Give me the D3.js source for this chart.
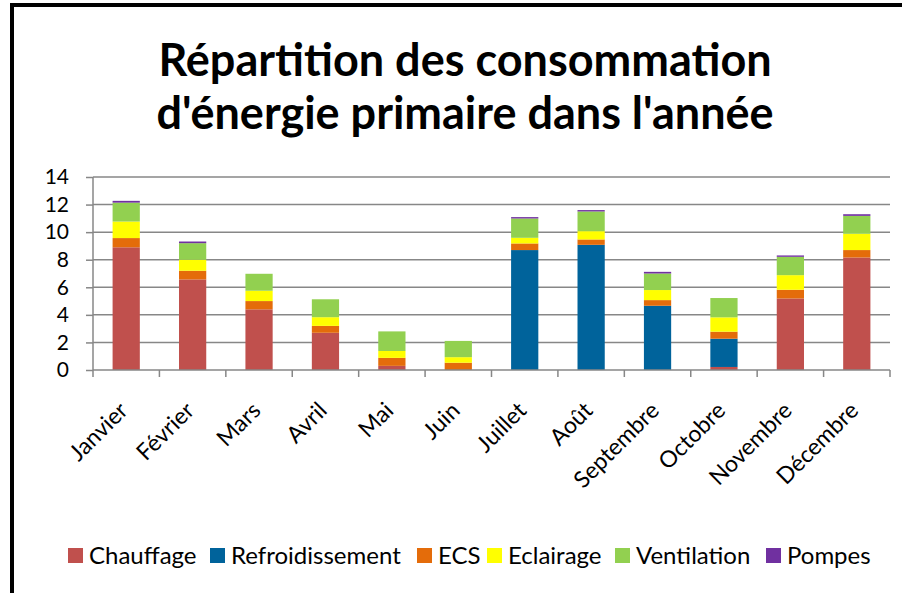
<!DOCTYPE html>
<html>
<head>
<meta charset="utf-8">
<script src="https://cdn.jsdelivr.net/npm/d3@7"></script>
<style>
  body { margin: 0; background: #fff; }
  text { font-family: Lato, "Open Sans", sans-serif; fill: #000; }
</style>
</head>
<body>
<div id="chart"></div>
<script>
// data
let months = ['Janvier', 'Février', 'Mars', 'Avril', 'Mai', 'Juin', 'Juillet', 'Août',
  'Septembre', 'Octobre', 'Novembre', 'Décembre'];
let chauffage = [8.9, 6.57, 4.4, 2.7, 0.3, 0, 0, 0, 0, 0.22, 5.19, 8.16];
let refroidissement = [0, 0, 0, 0, 0, 0, 8.7, 9.08, 4.66, 2.05, 0, 0];
let ecs = [0.67, 0.63, 0.6, 0.5, 0.58, 0.53, 0.48, 0.39, 0.41, 0.51, 0.63, 0.54];
let eclairage = [1.2, 0.8, 0.75, 0.63, 0.5, 0.4, 0.41, 0.6, 0.73, 1.04, 1.06, 1.18];
let ventilation = [1.37, 1.2, 1.23, 1.3, 1.42, 1.18, 1.4, 1.43, 1.2, 1.4, 1.33, 1.3];
let pompes = [0.13, 0.12, 0, 0, 0, 0, 0.1, 0.1, 0.12, 0, 0.1, 0.12];
let yTicks = [0, 2, 4, 6, 8, 10, 12, 14];

let seriesNames = ['Chauffage', 'Refroidissement', 'ECS', 'Eclairage', 'Ventilation', 'Pompes'];
let seriesValues = [chauffage, refroidissement, ecs, eclairage, ventilation, pompes];
let colors = ['#C0504D', '#00639B', '#E46C0A', '#FFFF00', '#92D050', '#7030A0'];

let width = 902, height = 593;
let margin = { top: 177, left: 93, right: 12, bottom: 223 };

let svg = d3.select('#chart')
  .append('svg')
  .attr('width', width)
  .attr('height', height);

svg.append('rect').attr('width', width).attr('height', height).attr('fill', '#fff');

// outer frame of the chart area
svg.append('rect')
  .attr('x', 12).attr('y', 5)
  .attr('width', 920).attr('height', 620)
  .attr('fill', 'none')
  .attr('stroke', '#000')
  .attr('stroke-width', 4);

// title, two lines
let title = svg.append('text')
  .attr('text-anchor', 'middle')
  .style('font-weight', 'bold')
  .style('font-size', '45px');
title.append('tspan').attr('x', 465).attr('y', 76).text('Répartition des consommation');
title.append('tspan').attr('x', 465).attr('y', 129).text("d'énergie primaire dans l'année");

// building table for the stack
let table = months.map(function(m, i) {
  let row = { month: m };
  seriesNames.forEach(function(s, j) { row[s] = seriesValues[j][i]; });
  return row;
});

let xScale = d3.scaleBand()
  .domain(months)
  .range([margin.left, width - margin.right])
  .paddingInner(0.59)
  .paddingOuter(0.295);

let yScale = d3.scaleLinear()
  .domain([0, 14])
  .range([height - margin.bottom, margin.top]);

// gridlines
svg.append('g')
  .selectAll('line')
  .data(yTicks.slice(1))
  .join('line')
    .attr('x1', margin.left)
    .attr('x2', width - margin.right)
    .attr('y1', d => yScale(d))
    .attr('y2', d => yScale(d))
    .attr('stroke', '#878787')
    .attr('stroke-width', 1.5);

// y axis
let yAxis = svg.append('g')
  .attr('transform', 'translate(' + margin.left + ',0)')
  .call(d3.axisLeft(yScale).tickValues(yTicks).tickSize(7).tickPadding(17));
yAxis.selectAll('line, path').attr('stroke', '#878787').attr('stroke-width', 1.5);
yAxis.select('.domain').attr('d', 'M0,' + (yScale(0) + 7) + 'V' + yScale(14));
yAxis.selectAll('text')
  .style('font-family', 'Lato, sans-serif')
  .style('font-size', '21px');

// stacked bars
let stack = d3.stack().keys(seriesNames);
let layers = stack(table);

svg.append('g')
  .selectAll('g')
  .data(layers)
  .join('g')
    .attr('fill', (d, i) => colors[i])
  .selectAll('rect')
  .data(d => d)
  .join('rect')
    .attr('x', d => xScale(d.data.month))
    .attr('width', xScale.bandwidth())
    .attr('y', d => yScale(d[1]))
    .attr('height', d => yScale(d[0]) - yScale(d[1]));

// x axis: line + ticks between categories
let xAxis = svg.append('g');
xAxis.append('line')
  .attr('x1', margin.left).attr('x2', width - margin.right)
  .attr('y1', yScale(0)).attr('y2', yScale(0))
  .attr('stroke', '#878787').attr('stroke-width', 1.5);
let step = xScale.step();
xAxis.selectAll('.xtick')
  .data(d3.range(1, months.length + 1))
  .join('line')
    .attr('class', 'xtick')
    .attr('x1', k => margin.left + k * step)
    .attr('x2', k => margin.left + k * step)
    .attr('y1', yScale(0))
    .attr('y2', yScale(0) + 7)
    .attr('stroke', '#878787').attr('stroke-width', 1.5);

xAxis.selectAll('.xlabel')
  .data(months)
  .join('text')
    .attr('class', 'xlabel')
    .attr('text-anchor', 'end')
    .style('font-size', '23px')
    .attr('transform', d => 'translate(' + (xScale(d) + xScale.bandwidth() / 2 + 3) + ',' + (yScale(0) + 42) + ') rotate(-45)')
    .text(d => d);

// legend
let legendX = [68, 210, 417, 487, 615, 766];
let legend = svg.append('g')
  .selectAll('g')
  .data(seriesNames)
  .join('g')
    .attr('transform', (d, i) => 'translate(' + legendX[i] + ',548)');
legend.append('rect')
  .attr('width', 15).attr('height', 15)
  .attr('fill', (d, i) => colors[i]);
legend.append('text')
  .attr('x', 21).attr('y', 16)
  .style('font-size', '24px')
  .text(d => d);
</script>
</body>
</html>
